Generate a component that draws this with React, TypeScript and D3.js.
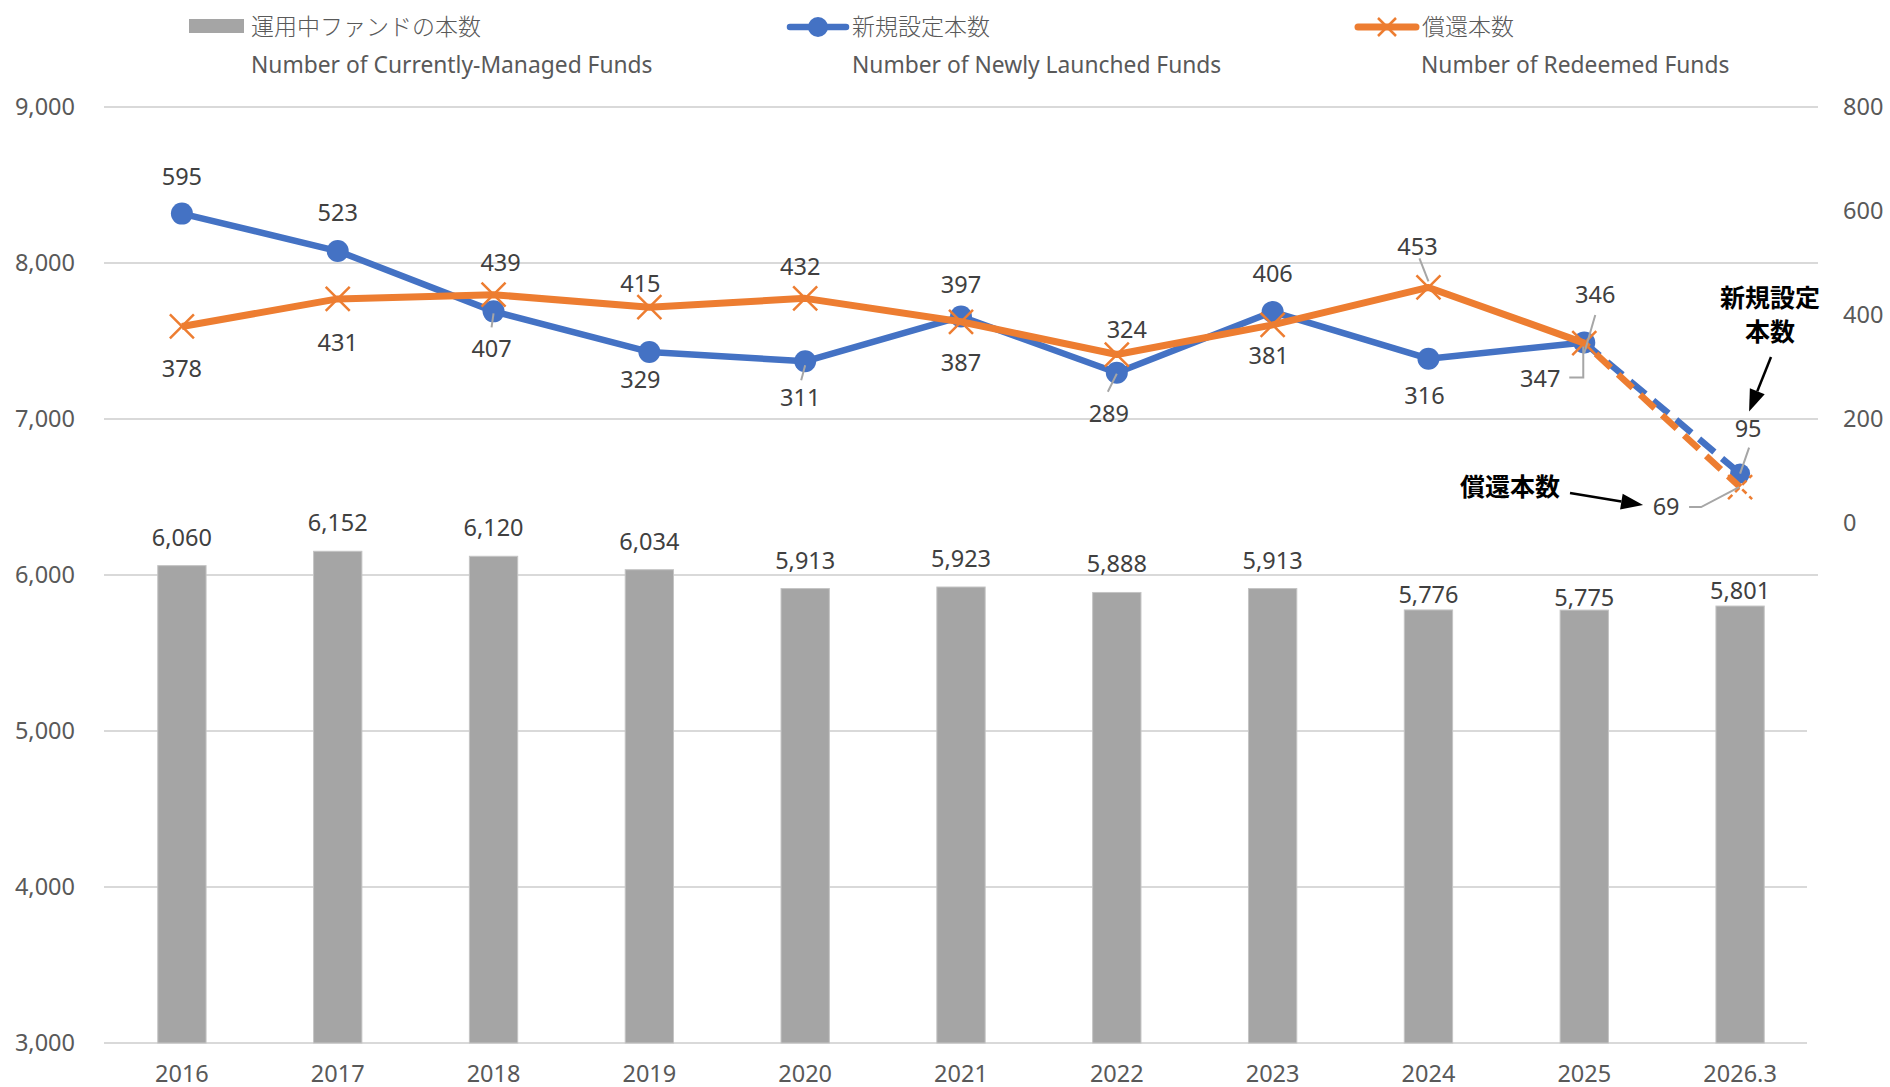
import * as d3 from 'd3';

const categories = ['2016', '2017', '2018', '2019', '2020', '2021', '2022', '2023', '2024', '2025', '2026.3'];
const managedFunds = [6060, 6152, 6120, 6034, 5913, 5923, 5888, 5913, 5776, 5775, 5801];
const newFunds = [595, 523, 407, 329, 311, 397, 289, 406, 316, 347, 95];
const redeemedFunds = [378, 431, 439, 415, 432, 387, 324, 381, 453, 346, 69];

const leftTicks = [3000, 4000, 5000, 6000, 7000, 8000, 9000];
const rightTicks = [0, 200, 400, 600, 800];

// label offsets (from the marker / bar top) — placement only
const barLabelGap = [20, 20, 20, 20, 20, 20, 20, 20, 7, 4, 7];
const newLabelPos = [[0, -37], [0, -38], [-2, 37], [-9, 28], [-5, 36], [0, -32], [-8, 41], [0, -38], [-4, 37], [-44, 36], [8, -45]];
const redLabelPos = [[0, 42], [0, 44], [7, -32], [-9, -23], [-5, -32], [0, 41], [10, -25], [-4, 31], [-11, -41], [11, -48], [-74, 20]];

// leader lines, points relative to the marker
const newLeaders: Record<number, number[][]> = {
  2: [[-2, 16], [0, 2]],
  4: [[-4, 19], [0, 4]],
  6: [[-9, 19], [0, 1]],
  9: [[-15, 35], [-1, 35], [-1, 4]],
  10: [[9, -26], [0, 0]],
};
const redLeaders: Record<number, number[][]> = {
  8: [[-9, -29], [0, -6]],
  9: [[11, -28], [0, 10]],
  10: [[-51, 20], [-39, 20], [-1, 0]],
};

const W = 1890;
const H = 1087;
const BLUE = '#4472C4';
const ORANGE = '#ED7D31';
const GRAY = '#A5A5A5';
const TXT = '#404040';
const AX = '#595959';
const FONT = '"Noto Sans", "Open Sans", sans-serif';
const JFONT = '"Noto Sans CJK JP", "Noto Sans", sans-serif';

const fmt = d3.format(',');

function Cross({ x, y, s = 12, dashed = false }: { x: number; y: number; s?: number; dashed?: boolean }) {
  return (
    <path
      d={`M${x - s},${y - s}L${x + s},${y + s}M${x - s},${y + s}L${x + s},${y - s}`}
      stroke={ORANGE}
      strokeWidth={2.5}
      strokeDasharray={dashed ? '6 4' : undefined}
      fill="none"
    />
  );
}

function Arrow({ x1, y1, x2, y2 }: { x1: number; y1: number; x2: number; y2: number }) {
  const a = Math.atan2(y2 - y1, x2 - x1);
  const len = 22;
  const hw = 8;
  const bx = x2 - len * Math.cos(a);
  const by = y2 - len * Math.sin(a);
  const px = -Math.sin(a) * hw;
  const py = Math.cos(a) * hw;
  return (
    <g>
      <line x1={x1} y1={y1} x2={bx} y2={by} stroke="#000" strokeWidth={2.5} />
      <path d={`M${x2},${y2}L${bx + px},${by + py}L${bx - px},${by - py}Z`} fill="#000" />
    </g>
  );
}

export default function App() {
  const x = d3.scaleBand<string>().domain(categories).range([104, 1818]);
  const yL = d3.scaleLinear().domain([3000, 9000]).range([1043, 107]);
  const yR = d3.scaleLinear().domain([-1000, 800]).range([1043, 107]);
  const cx = (i: number) => (x(categories[i]) as number) + x.bandwidth() / 2;
  const barW = x.bandwidth() * 0.31;

  const solidIdx = categories.length - 1;
  const solidPath = (vals: number[]) =>
    d3.line<number>().x((_, i) => cx(i)).y(d => yR(d))(vals.slice(0, solidIdx)) as string;
  const dashPath = (vals: number[]) =>
    d3.line<number>().x((_, i) => cx(solidIdx - 1 + i)).y(d => yR(d))(vals.slice(solidIdx - 1)) as string;

  const leaderPath = (i: number, v: number, pts: number[][]) =>
    pts.map((p, k) => `${k ? 'L' : 'M'}${cx(i) + p[0]},${yR(v) + p[1]}`).join('');

  return (
    <svg width={W} height={H} style={{ position: 'absolute', left: 0, top: 0, background: '#fff' }}>
      {/* gridlines */}
      {leftTicks.map(t => (
        <line key={t} x1={104} x2={t >= 6000 ? 1818 : 1807} y1={yL(t)} y2={yL(t)} stroke="#D9D9D9" strokeWidth={2} />
      ))}

      {/* left axis */}
      {leftTicks.map(t => (
        <text key={t} x={75} y={yL(t)} dy="0.35em" textAnchor="end" fontFamily={FONT} fontSize={23.5} fill={AX}>
          {fmt(t)}
        </text>
      ))}
      {/* right axis */}
      {rightTicks.map(t => (
        <text key={t} x={1843} y={yR(t)} dy="0.35em" textAnchor="start" fontFamily={FONT} fontSize={23.5} fill={AX}>
          {t}
        </text>
      ))}
      {/* x axis */}
      {categories.map((c, i) => (
        <text key={c} x={cx(i)} y={1082} textAnchor="middle" fontFamily={FONT} fontSize={23.5} fill={AX}>
          {c}
        </text>
      ))}

      {/* bars */}
      {managedFunds.map((v, i) => (
        <g key={i}>
          <rect
            x={cx(i) - barW / 2}
            y={yL(v)}
            width={barW}
            height={yL(3000) - yL(v)}
            fill={GRAY}
            stroke="#C4C4C4"
            strokeWidth={1}
          />
          <text x={cx(i)} y={yL(v) - barLabelGap[i]} textAnchor="middle" fontFamily={FONT} fontSize={23.5} fill={TXT}>
            {fmt(v)}
          </text>
        </g>
      ))}

      {/* new funds line */}
      <path d={solidPath(newFunds)} fill="none" stroke={BLUE} strokeWidth={6.5} strokeLinejoin="round" />
      <path d={dashPath(newFunds)} fill="none" stroke={BLUE} strokeWidth={6.5} strokeDasharray="20 10" />
      {newFunds.map((v, i) => (
        <circle key={i} cx={cx(i)} cy={yR(v)} r={i === solidIdx ? 10 : 11} fill={BLUE} />
      ))}

      {/* redeemed funds line */}
      <path d={solidPath(redeemedFunds)} fill="none" stroke={ORANGE} strokeWidth={7} strokeLinejoin="round" />
      <path d={dashPath(redeemedFunds)} fill="none" stroke={ORANGE} strokeWidth={6.5} strokeDasharray="20 10" strokeDashoffset={14} />
      {redeemedFunds.map((v, i) => (
        <Cross key={i} x={cx(i)} y={yR(v)} dashed={i === solidIdx} />
      ))}

      {/* leader lines */}
      {Object.entries(newLeaders).map(([k, pts]) => (
        <path key={'n' + k} d={leaderPath(+k, newFunds[+k], pts)} fill="none" stroke="#A6A6A6" strokeWidth={2} />
      ))}
      {Object.entries(redLeaders).map(([k, pts]) => (
        <path key={'r' + k} d={leaderPath(+k, redeemedFunds[+k], pts)} fill="none" stroke="#A6A6A6" strokeWidth={2} />
      ))}

      {/* data labels */}
      {newFunds.map((v, i) => (
        <text key={'nl' + i} x={cx(i) + newLabelPos[i][0]} y={yR(v) + newLabelPos[i][1]} dy="0.35em"
          textAnchor="middle" fontFamily={FONT} fontSize={23.5} fill={TXT}>
          {v}
        </text>
      ))}
      {redeemedFunds.map((v, i) => (
        <text key={'rl' + i} x={cx(i) + redLabelPos[i][0]} y={yR(v) + redLabelPos[i][1]} dy="0.35em"
          textAnchor="middle" fontFamily={FONT} fontSize={23.5} fill={TXT}>
          {v}
        </text>
      ))}

      {/* annotations */}
      <text x={1770} y={297} dy="0.38em" textAnchor="middle" fontFamily={JFONT} fontWeight="bold" fontSize={25} fill="#000">新規設定</text>
      <text x={1770} y={331} dy="0.38em" textAnchor="middle" fontFamily={JFONT} fontWeight="bold" fontSize={25} fill="#000">本数</text>
      <Arrow x1={1771} y1={357} x2={cx(solidIdx) + 9} y2={yR(newFunds[solidIdx]) - 62} />
      <text x={1510} y={486} dy="0.38em" textAnchor="middle" fontFamily={JFONT} fontWeight="bold" fontSize={25} fill="#000">償還本数</text>
      <Arrow x1={1570} y1={493} x2={cx(solidIdx) - 97} y2={yR(redeemedFunds[solidIdx]) + 18} />

      {/* legend */}
      <rect x={189} y={19} width={55} height={14} fill={GRAY} />
      <text x={251} y={35} fontFamily={JFONT} fontWeight={300} fontSize={23} fill={AX}>運用中ファンドの本数</text>
      <text x={251} y={73} fontFamily={FONT} fontSize={22.8} fill={AX}>Number of Currently-Managed Funds</text>

      <line x1={790} x2={846} y1={27} y2={27} stroke={BLUE} strokeWidth={6.5} strokeLinecap="round" />
      <circle cx={818} cy={27} r={10} fill={BLUE} />
      <text x={852} y={35} fontFamily={JFONT} fontWeight={300} fontSize={23} fill={AX}>新規設定本数</text>
      <text x={852} y={73} fontFamily={FONT} fontSize={22.8} fill={AX}>Number of Newly Launched Funds</text>

      <line x1={1358} x2={1416} y1={27} y2={27} stroke={ORANGE} strokeWidth={7} strokeLinecap="round" />
      <Cross x={1387} y={27} s={9} />
      <text x={1422} y={35} fontFamily={JFONT} fontWeight={300} fontSize={23} fill={AX}>償還本数</text>
      <text x={1421} y={73} fontFamily={FONT} fontSize={22.8} fill={AX}>Number of Redeemed Funds</text>
    </svg>
  );
}
